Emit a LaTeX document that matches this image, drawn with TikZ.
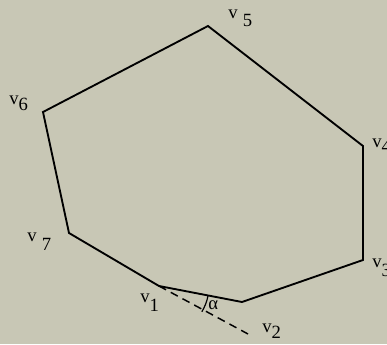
\documentclass[tikz,border=0pt]{standalone}
\usepackage{fontspec}
\setmainfont{Liberation Serif}
\usetikzlibrary{positioning, calc}
\definecolor{paper}{RGB}{200,199,181}

\begin{document}
\begin{tikzpicture}[x=0.75pt,y=-0.75pt,
    every node/.style={font=\fontsize{14}{16}\selectfont, inner sep=0pt, anchor=base west},
    edge/.style={line width=1.4pt, line join=miter},
    guide/.style={line width=1.1pt, dash pattern=on 6pt off 4pt},
    anglemark/.style={line width=0.9pt}
]
\fill[paper] (0,0) rectangle (387,344);
\useasboundingbox (0,0) rectangle (387,344);
% corners of the polygon
\coordinate (v1) at (159,286);
\coordinate (vb) at (242,302);
\coordinate (v3) at (363,260);
\coordinate (v4) at (363,146);
\coordinate (v5) at (208,26);
\coordinate (v6) at (43,112);
\coordinate (v7) at (69,233);
\coordinate (v2) at (248,334);
\draw[edge] (v1) -- (vb) -- (v3) -- (v4) -- (v5) -- (v6) -- (v7) -- cycle;
\draw[guide] (v1) -- (v2);
\draw[anglemark] ($(v1)+(11:50)$) arc[start angle=11, end angle=31, radius=50];
% labels
\node (l5) at (228,18) {v\hspace{4pt}\raisebox{-6pt}{5}};
\node (l6) at (9,104) {v\raisebox{-5pt}{6}};
\node (l7) at (27,241) {v\hspace{4pt}\raisebox{-7pt}{7}};
\node (l4) at (372,147) {v\raisebox{-4pt}{4}};
\node (l3) at (372,267) {v\raisebox{-7pt}{3}};
\node (l1) at (140,302) {v\raisebox{-7pt}{1}};
\node (l2) at (262,332) {v\raisebox{-4.5pt}{2}};
\node (la) at (208,309) {α};
\end{tikzpicture}
\end{document}
